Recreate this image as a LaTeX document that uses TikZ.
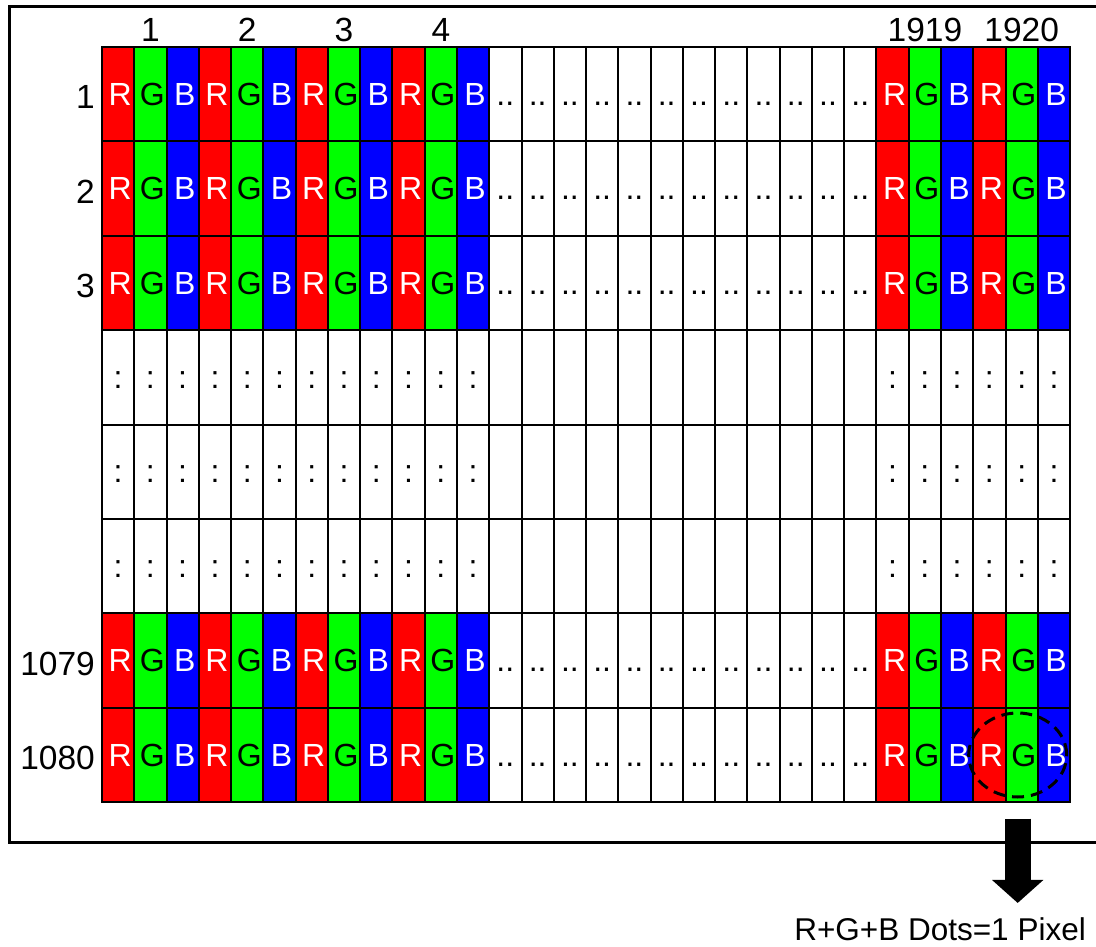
\documentclass[tikz,border=0pt]{standalone}
\usepackage{fontspec}
\setmainfont{Liberation Sans}
\usetikzlibrary{shapes.geometric,arrows.meta}
\definecolor{dotred}{HTML}{FF0000}
\definecolor{dotgreen}{HTML}{00FF00}
\definecolor{dotblue}{HTML}{0000FF}

\tikzset{
  cell/.style={draw=black, line width=2pt, minimum width=32.27pt, minimum height=94.4pt,
    inner sep=0pt, outer sep=0pt, font=\fontsize{32}{32}\selectfont},
  numlabel/.style={font=\fontsize{33.5}{34}\selectfont, inner sep=0pt},
}

\begin{document}
\begin{tikzpicture}[x=1pt,y=-1pt]
  \useasboundingbox (0,0) rectangle (1096,947);
  % frame
  \draw[line width=3pt] (1096,7) -- (9,7) -- (9,842) -- (1096,842);
  % sub-pixel rows
  \foreach \r in {1,2,3,7,8} {
    \foreach \c in {1,...,12,25,26,27,28,29,30} {
      \pgfmathtruncatemacro\k{mod(\c-1,3)}
      \ifcase\k \def\fc{dotred}\def\tc{white}\def\txt{R}%
      \or \def\fc{dotgreen}\def\tc{black}\def\txt{G}%
      \or \def\fc{dotblue}\def\tc{white}\def\txt{B}\fi
      \node[cell, fill=\fc, text=\tc] (c-\r-\c) at ({102+(\c-0.5)*32.27},{47+(\r-0.5)*94.4}) {\hspace{4pt}\txt};
    }
    \foreach \c in {13,...,24}
      \node[cell, fill=white] (c-\r-\c) at ({102+(\c-0.5)*32.27},{47+(\r-0.5)*94.4}) {\vphantom{R}..};
  }
  \foreach \r in {4,5,6} {
    \foreach \c in {1,...,12,25,26,27,28,29,30}
      \node[cell, fill=white] (c-\r-\c) at ({102+(\c-0.5)*32.27},{47+(\r-0.5)*94.4}) {\vphantom{R}:};
    \foreach \c in {13,...,24}
      \node[cell, fill=white] (c-\r-\c) at ({102+(\c-0.5)*32.27},{47+(\r-0.5)*94.4}) {};
  }
  % labels
  \foreach \n/\c in {1/2,2/5,3/8,4/11,1919/26,1920/29}
    \node[numlabel] (col-\n) at ([yshift=17pt]c-1-\c.north) {\n};
  \foreach \n/\r in {1/1,2/2,3/3,1079/7,1080/8}
    \node[numlabel, anchor=east] (row-\n) at ([xshift=-7pt,yshift=-3pt]c-\r-1.west) {\n};
  % one pixel
  \node[ellipse, draw, line width=3pt, dash pattern=on 12pt off 7pt, minimum width=98pt,
    minimum height=84pt, inner sep=0pt] (pixel) at ([xshift=-4pt]c-8-29) {};
  \node[font=\fontsize{31.5}{32}\selectfont, inner sep=0pt, anchor=base east] (caption) at (1086,940) {R+G+B Dots=1 Pixel};
  \draw[line width=26pt, -{Triangle[width=50pt,length=23pt]}] ([yshift=-20pt]pixel.south) -- ([yshift=14pt]pixel.south |- caption.north);
\end{tikzpicture}
\end{document}
